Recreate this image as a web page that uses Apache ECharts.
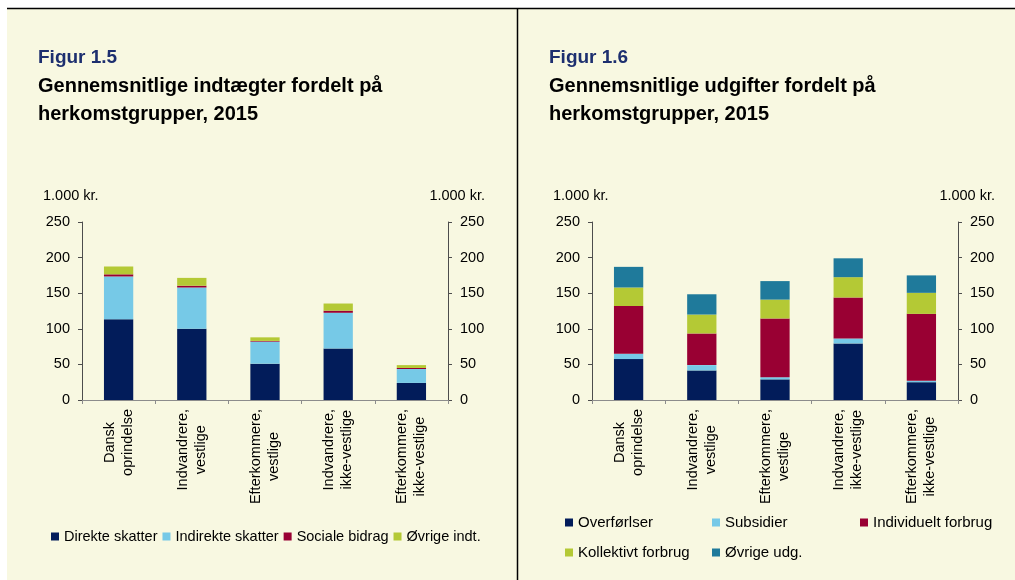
<!DOCTYPE html>
<html>
<head>
<meta charset="utf-8">
<script src="https://cdn.jsdelivr.net/npm/echarts@6/dist/echarts.min.js"></script>
<style>
    html, body { margin: 0; padding: 0; background: #fff; }
    #main { width: 1015px; height: 580px; }
</style>
</head>
<body>
<div id="main"></div>
<script>
// categories (same for both figures)
var groups = [
    ['Dansk', 'oprindelse'],
    ['Indvandrere,', 'vestlige'],
    ['Efterkommere,', 'vestlige'],
    ['Indvandrere,', 'ikke-vestlige'],
    ['Efterkommere,', 'ikke-vestlige']
];

// Figur 1.5 - indtaegter, 1.000 kr.
var incomeNames = ['Direkte skatter', 'Indirekte skatter', 'Sociale bidrag', 'Øvrige indt.'];
var direkteSkatter = [113.5, 100, 51, 72.5, 24];
var indirekteSkatter = [60, 58, 31, 50, 19.5];
var socialeBidrag = [3, 2.5, 1, 3, 1.5];
var oevrigeIndt = [11, 11, 5, 10, 4];

// Figur 1.6 - udgifter, 1.000 kr.
var expenseNames = ['Overførlser', 'Subsidier', 'Individuelt forbrug', 'Kollektivt forbrug', 'Øvrige udg.'];
var overfoersler = [57.5, 41.5, 29, 79.5, 25];
var subsidier = [7.5, 7.5, 3, 7, 2];
var individueltForbrug = [67, 44.5, 82.5, 57.5, 94];
var kollektivtForbrug = [26, 26.5, 26.5, 28.5, 29.5];
var oevrigeUdg = [29, 28.5, 26, 26.5, 24.5];

var yTicks = [0, 50, 100, 150, 200, 250];

var colors = ['#021c5a', '#76c9e7', '#990033', '#b4c935', '#1f7a9b'];
var font = 'Liberation Sans, Arial, sans-serif';

function xAxisFor(grid) {
    return {
        type: 'category',
        gridIndex: grid,
        data: groups.map(function(g) { return g.join('\n'); }),
        axisLine: { lineStyle: { color: '#8c8c8c', width: 1 } },
        axisTick: { show: true, length: 4, lineStyle: { color: '#8c8c8c' } },
        axisLabel: {
            rotate: 90,
            margin: 9,
            interval: 0,
            // each line centred inside its label block
            formatter: function(v) {
                return v.split('\n').map(function(s) { return '{c|' + s + '}'; }).join('\n');
            },
            rich: {
                c: { align: 'center', fontSize: 14.5, lineHeight: 18, color: '#000', fontFamily: font }
            }
        }
    };
}

function yAxisFor(grid, pos) {
    return {
        type: 'value',
        gridIndex: grid,
        position: pos,
        min: yTicks[0],
        max: yTicks[yTicks.length - 1],
        interval: 50,
        splitLine: { show: false },
        axisLine: { show: true, lineStyle: { color: '#4d4d4d', width: 1 } },
        axisTick: { show: true, length: 4, lineStyle: { color: '#4d4d4d' } },
        axisLabel: { margin: 12, fontSize: 14.5, color: '#000', fontFamily: font }
    };
}

function barSeries(name, data, color, grid) {
    return {
        name: name,
        type: 'bar',
        stack: 'g' + grid,
        xAxisIndex: grid,
        yAxisIndex: grid * 2,
        barWidth: '40%',
        itemStyle: { color: color },
        data: data
    };
}

function legendStyle(x, y, names, orient, size) {
    return {
        left: x,
        top: y,
        orient: orient,
        padding: 0,
        itemWidth: 8,
        itemHeight: 8,
        itemGap: orient === 'vertical' ? 15 : 5,
        icon: 'rect',
        data: names,
        textStyle: { fontSize: size, color: '#000', fontFamily: font }
    };
}

function unitLabel(pos) {
    var t = { type: 'text', top: 188, style: { text: '1.000 kr.', fontSize: 14.5, fill: '#000', fontFamily: font } };
    if (pos.left !== undefined) t.left = pos.left; else t.right = pos.right;
    return t;
}

var myChart = echarts.init(document.getElementById('main'));
var option = {
    backgroundColor: '#f8f8e1',
    animation: false,
    title: [
        { left: 38, top: 48, padding: 0, text: 'Figur 1.5',
          textStyle: { fontSize: 19, fontWeight: 'bold', color: '#1d2f6f', fontFamily: font } },
        { left: 38, top: 72, padding: 0, text: 'Gennemsnitlige indtægter fordelt på\nherkomstgrupper, 2015',
          textStyle: { fontSize: 20, fontWeight: 'bold', color: '#000', lineHeight: 28.5, fontFamily: font } },
        { left: 549, top: 48, padding: 0, text: 'Figur 1.6',
          textStyle: { fontSize: 19, fontWeight: 'bold', color: '#1d2f6f', fontFamily: font } },
        { left: 549, top: 72, padding: 0, text: 'Gennemsnitlige udgifter fordelt på\nherkomstgrupper, 2015',
          textStyle: { fontSize: 20, fontWeight: 'bold', color: '#000', lineHeight: 28.5, fontFamily: font } }
    ],
    // frame lines and unit labels
    graphic: [
        { type: 'rect', shape: { x: 0, y: 0, width: 7, height: 580 }, style: { fill: '#fff' }, silent: true },
        { type: 'rect', shape: { x: 0, y: 0, width: 1015, height: 8 }, style: { fill: '#fff' }, silent: true },
        { type: 'line', shape: { x1: 7, y1: 8.5, x2: 1015, y2: 8.5 }, style: { stroke: '#000', lineWidth: 1.5 }, silent: true },
        { type: 'line', shape: { x1: 517.5, y1: 8, x2: 517.5, y2: 580 }, style: { stroke: '#000', lineWidth: 1.5 }, silent: true },
        unitLabel({ left: 43 }),
        unitLabel({ right: 1015 - 485 }),
        unitLabel({ left: 553 }),
        unitLabel({ right: 1015 - 995 })
    ],
    legend: [
        legendStyle(51, 529, incomeNames, 'horizontal', 14.5),
        legendStyle(565, 515, [expenseNames[0], expenseNames[3]], 'vertical', 15),
        legendStyle(712, 515, [expenseNames[1], expenseNames[4]], 'vertical', 15),
        legendStyle(860, 515, [expenseNames[2]], 'vertical', 15)
    ],
    grid: [
        { left: 82, right: 567, top: 222, bottom: 180 },
        { left: 592, right: 57, top: 222, bottom: 180 }
    ],
    xAxis: [xAxisFor(0), xAxisFor(1)],
    yAxis: [yAxisFor(0, 'left'), yAxisFor(0, 'right'), yAxisFor(1, 'left'), yAxisFor(1, 'right')],
    series: [
        barSeries(incomeNames[0], direkteSkatter, colors[0], 0),
        barSeries(incomeNames[1], indirekteSkatter, colors[1], 0),
        barSeries(incomeNames[2], socialeBidrag, colors[2], 0),
        barSeries(incomeNames[3], oevrigeIndt, colors[3], 0),
        barSeries(expenseNames[0], overfoersler, colors[0], 1),
        barSeries(expenseNames[1], subsidier, colors[1], 1),
        barSeries(expenseNames[2], individueltForbrug, colors[2], 1),
        barSeries(expenseNames[3], kollektivtForbrug, colors[3], 1),
        barSeries(expenseNames[4], oevrigeUdg, colors[4], 1)
    ]
};

myChart.setOption(option);
</script>
</body>
</html>
